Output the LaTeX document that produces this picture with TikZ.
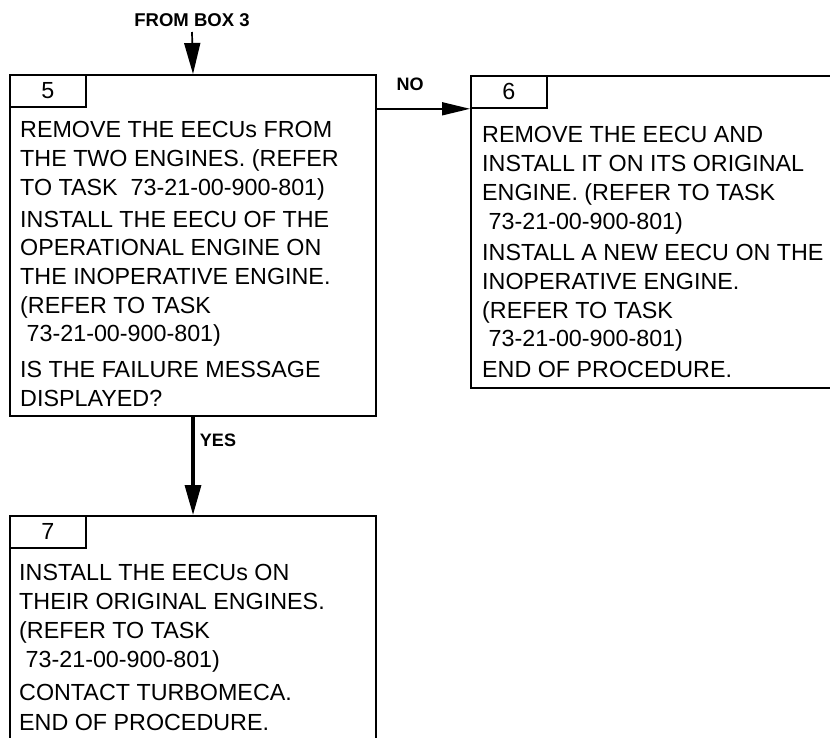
\documentclass[tikz,border=0pt]{standalone}
\usepackage{fontspec}
\setmainfont{Liberation Sans}
\usetikzlibrary{arrows.meta,positioning}

\begin{document}
\begin{tikzpicture}[x=1pt,y=1pt,
  stepbox/.style={draw=black,line width=2pt,rectangle,anchor=north west,inner sep=0pt},
  numtab/.style={draw=black,line width=1.8pt,rectangle,anchor=north west,minimum width=76pt,minimum height=32pt,inner sep=0pt,font=\fontsize{23.3}{28.7}\selectfont},
  steptext/.style={anchor=north west,align=left,inner sep=0pt,font=\fontsize{23.3}{28.7}\selectfont},
  lbl/.style={font=\bfseries\fontsize{18}{20}\selectfont,inner sep=0pt},
  thinarrow/.style={line width=1.7pt,-{Triangle[length=28pt,width=13pt]}},
  thickarrow/.style={line width=3.2pt,-{Triangle[length=30pt,width=16pt]}}]
\clip (0,0) rectangle (830,-737);
\node[stepbox,minimum width=366pt,minimum height=341pt] (box5) at (9,-74) {};
\node[stepbox,minimum width=420pt,minimum height=312pt] (box6) at (470,-75) {};
\node[stepbox,minimum width=366pt,minimum height=260pt] (box7) at (9,-515) {};
\node[numtab] (tab5) at (box5.north west) {5};
\node[numtab] (tab6) at (box6.north west) {6};
\node[numtab] (tab7) at (box7.north west) {7};
\node[steptext] (text5) at (20,-121.5) {REMOVE THE EECUs FROM\\
THE TWO ENGINES. (REFER\\
TO TASK\ \ 73-21-00-900-801)\\[3pt]
INSTALL THE EECU OF THE\\
OPERATIONAL ENGINE ON\\
THE INOPERATIVE ENGINE.\\
(REFER TO TASK\\
\hspace*{.278em}73-21-00-900-801)\\[7pt]
IS THE FAILURE MESSAGE\\
DISPLAYED?};
\node[steptext] (text6) at (482,-126.5) {REMOVE THE EECU AND\\
INSTALL IT ON ITS ORIGINAL\\
ENGINE. (REFER TO TASK\\
\hspace*{.278em}73-21-00-900-801)\\[3pt]
INSTALL A NEW EECU ON THE\\
INOPERATIVE ENGINE.\\
(REFER TO TASK\\
\hspace*{.278em}73-21-00-900-801)\\[2pt]
END OF PROCEDURE.};
\node[steptext] (text7) at (19,-564.5) {INSTALL THE EECUs ON\\
THEIR ORIGINAL ENGINES.\\
(REFER TO TASK\\
\hspace*{.278em}73-21-00-900-801)\\[5pt]
CONTACT TURBOMECA.\\[1pt]
END OF PROCEDURE.};
\node[lbl,font=\bfseries\fontsize{18.5}{20}\selectfont] (from3) at (192,-20) {FROM BOX 3};
\coordinate (from3end) at (192,-32);
\draw[line width=1.7pt,-{Triangle[length=31pt,width=16pt]}] (from3end) -- (box5.north);
\draw[thinarrow] (box5.east |- tab6.south west) -- (tab6.south west);
\node[lbl] (nolbl) at (410,-84.5) {NO};
\draw[thickarrow] (box5.south) -- (box7.north);
\node[lbl] (yeslbl) at (218,-440) {YES};
\end{tikzpicture}
\end{document}
